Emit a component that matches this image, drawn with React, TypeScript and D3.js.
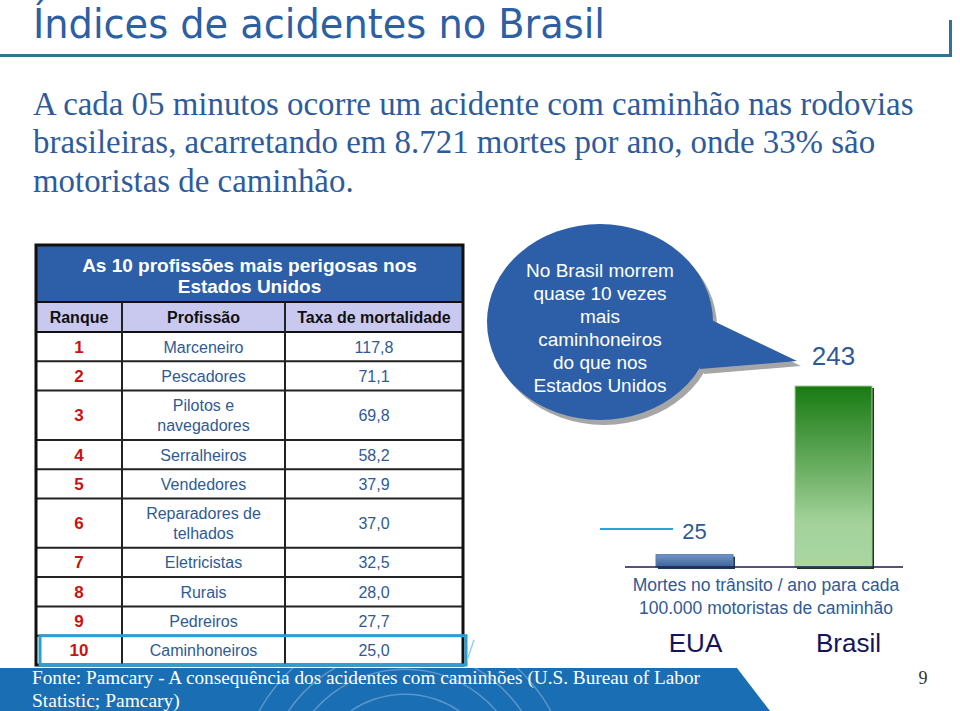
import React from "react";
import * as d3 from "d3";

const TITLE = "Índices de acidentes no Brasil";
const introLines = [
  "A cada 05 minutos ocorre um acidente com caminhão nas rodovias",
  "brasileiras, acarretando em 8.721 mortes por ano, onde 33% são",
  "motoristas de caminhão.",
];
const tableTitle = ["As 10 profissões mais perigosas nos", "Estados Unidos"];
const columns = ["Ranque", "Profissão", "Taxa de mortalidade"];
const ranks = [1, 2, 3, 4, 5, 6, 7, 8, 9, 10];
const professions = [
  ["Marceneiro"],
  ["Pescadores"],
  ["Pilotos e", "navegadores"],
  ["Serralheiros"],
  ["Vendedores"],
  ["Reparadores de", "telhados"],
  ["Eletricistas"],
  ["Rurais"],
  ["Pedreiros"],
  ["Caminhoneiros"],
];
const rates = [117.8, 71.1, 69.8, 58.2, 37.9, 37.0, 32.5, 28.0, 27.7, 25.0];
const countries = ["EUA", "Brasil"];
const truckerDeaths = [25, 243];
const bubbleLines = [
  "No Brasil morrem",
  "quase 10 vezes",
  "mais",
  "caminhoneiros",
  "do que nos",
  "Estados Unidos",
];
const axisCaption = ["Mortes no trânsito / ano para cada", "100.000 motoristas de caminhão"];
const sourceLines = [
  "Fonte: Pamcary - A consequência dos acidentes com caminhões (U.S. Bureau of Labor",
  "Statistic; Pamcary)",
];
const pageNumber = "9";

const ptBR = d3.formatLocale({ decimal: ",", thousands: ".", grouping: [3], currency: ["R$", ""] });
const fmt = ptBR.format(".1f");

const SANS = "'Liberation Sans', Arial, Helvetica, sans-serif";
const SERIF = "'Liberation Serif', 'Times New Roman', serif";
const TEXT_BLUE = "#2f5a96";

export default function App() {
  // table layout
  const colEdges = [36, 122, 285, 463];
  const colCenters = [0, 1, 2].map((i) => (colEdges[i] + colEdges[i + 1]) / 2);
  const tableTop = 245;
  const headBottom = 302;
  const colHeadBottom = 332;
  const rowHeights = professions.map((p) => (p.length === 1 ? 29.3 : 49.3));
  const cum = Array.from(d3.cumsum(rowHeights));
  const rowTops = cum.map((c, i) => colHeadBottom + c - rowHeights[i]);
  const tableBottom = colHeadBottom + cum[cum.length - 1];

  // bars
  const x = d3.scaleBand().domain(countries).range([625, 903]).paddingInner(0.446).paddingOuter(0.223);
  const y = d3.scaleLinear().domain([9, 243]).range([567, 386]);
  const bw = x.bandwidth();

  // bubble
  const bcx = 600, bcy = 322, brx = 113, bry = 98;
  const tail = "M703,316 L797,361 L700,369 Z";

  // footer arcs
  const arcGen = d3.arc();
  const arcs = [70, 95, 120, 140, 165].map((r) =>
    arcGen({ innerRadius: r, outerRadius: r + 1.5, startAngle: -Math.PI / 2.4, endAngle: Math.PI / 2.4 } as any)
  );

  const last = rowTops.length - 1;

  return (
    <svg width={960} height={711} style={{ position: "absolute", left: 0, top: 0, background: "#fff" }}>
      <defs>
        <linearGradient id="gBrasil" x1="0" y1="0" x2="0" y2="1">
          <stop offset="0" stopColor="#187a12" />
          <stop offset="0.45" stopColor="#6aae62" />
          <stop offset="0.75" stopColor="#a2d29a" />
          <stop offset="1" stopColor="#aad6a2" />
        </linearGradient>
        <linearGradient id="gEUA" x1="0" y1="0" x2="0" y2="1">
          <stop offset="0" stopColor="#7393c4" />
          <stop offset="1" stopColor="#3d6598" />
        </linearGradient>
        <clipPath id="footClip">
          <path d="M0,668 L737,668 L770,711 L0,711 Z" />
        </clipPath>
      </defs>

      {/* title */}
      <text x={33} y={38} fontFamily={"'Liberation Sans Narrow', 'DejaVu Sans Condensed', " + SANS} fontSize={40}
        fill="#2c5fa3" textLength={572} lengthAdjust="spacingAndGlyphs">{TITLE}</text>
      <path d="M0,55.5 L950.5,55.5 L950.5,20" fill="none" stroke="#2d7395" strokeWidth={3} />

      {/* intro */}
      {introLines.map((l, i) => (
        <text key={i} x={33} y={115 + i * 38.3} fontFamily={SERIF} fontSize={32.9} fill="#2e5b9c">{l}</text>
      ))}

      {/* table */}
      <rect x={colEdges[0]} y={tableTop} width={colEdges[3] - colEdges[0]} height={headBottom - tableTop} fill="#2d5ea8" />
      <rect x={colEdges[0]} y={headBottom} width={colEdges[3] - colEdges[0]} height={colHeadBottom - headBottom} fill="#c9c9ef" />
      {tableTitle.map((t, i) => (
        <text key={i} x={(colEdges[0] + colEdges[3]) / 2} y={272 + i * 21} textAnchor="middle" fontFamily={SANS}
          fontWeight="bold" fontSize={19} fill="#fff">{t}</text>
      ))}
      {columns.map((c, i) => (
        <text key={c} x={colCenters[i]} y={323} textAnchor="middle" fontFamily={SANS} fontWeight="bold" fontSize={16} fill="#111">{c}</text>
      ))}
      {/* horizontal lines */}
      <line x1={colEdges[0]} x2={colEdges[3]} y1={headBottom} y2={headBottom} stroke="#111" strokeWidth={2} />
      <line x1={colEdges[0]} x2={colEdges[3]} y1={colHeadBottom} y2={colHeadBottom} stroke="#111" strokeWidth={2} />
      {rowTops.slice(1).map((t, i) => (
        <line key={i} x1={colEdges[0]} x2={colEdges[3]} y1={t} y2={t} stroke="#222" strokeWidth={2} />
      ))}
      {[1, 2].map((i) => (
        <line key={i} x1={colEdges[i]} x2={colEdges[i]} y1={headBottom} y2={tableBottom} stroke="#222" strokeWidth={2} />
      ))}
      <rect x={colEdges[0]} y={tableTop} width={colEdges[3] - colEdges[0]} height={tableBottom - tableTop} fill="none" stroke="#111" strokeWidth={3} />
      {ranks.map((r, i) => {
        const cy = rowTops[i] + rowHeights[i] / 2;
        const lines = professions[i];
        return (
          <g key={r}>
            <text x={colCenters[0]} y={cy + 6} textAnchor="middle" fontFamily={SANS} fontWeight="bold" fontSize={17} fill="#cc1111">{r}</text>
            {lines.map((l, j) => (
              <text key={j} x={colCenters[1]} y={cy + 6 + (j - (lines.length - 1) / 2) * 20} textAnchor="middle"
                fontFamily={SANS} fontSize={16} fill={TEXT_BLUE}>{l}</text>
            ))}
            <text x={colCenters[2]} y={cy + 6} textAnchor="middle" fontFamily={SANS} fontSize={16} fill={TEXT_BLUE}>{fmt(rates[i])}</text>
          </g>
        );
      })}
      {/* highlight of truckers row */}
      <rect x={40} y={rowTops[last]} width={426} height={rowHeights[last]} fill="none" stroke="#2a9fd2" strokeWidth={3} />
      <path d={`M468,${rowTops[last] + 22} L474,${rowTops[last] + 4}`} fill="none" stroke="#2aa3d6" strokeWidth={1.5} opacity={0.5} />
      <line x1={600} x2={673} y1={529} y2={529} stroke="#2aa3d6" strokeWidth={2} />

      {/* speech bubble */}
      <g transform="translate(4,5)" fill="#a6a6a6">
        <ellipse cx={bcx} cy={bcy} rx={brx} ry={bry} />
        <path d={tail} />
      </g>
      <g fill="#2d5fa8">
        <ellipse cx={bcx} cy={bcy} rx={brx} ry={bry} />
        <path d={tail} />
      </g>
      {bubbleLines.map((l, i) => (
        <text key={i} x={bcx} y={277 + i * 23} textAnchor="middle" fontFamily={SANS} fontSize={19} fill="#fff">{l}</text>
      ))}

      {/* bars */}
      {countries.map((c, i) => {
        const bx = x(c)!;
        const top = y(truckerDeaths[i]);
        const h = 567 - top;
        return (
          <g key={c}>
            <rect x={bx + 2} y={top + 2} width={bw} height={h} fill={i === 0 ? "#22385a" : "#1f3520"} />
            <rect x={bx} y={top} width={bw} height={h} fill={i === 0 ? "url(#gEUA)" : "url(#gBrasil)"}
              stroke={i === 0 ? "#5a7fb2" : "#9fd092"} strokeWidth={1} />
            <text x={bx + bw / 2} y={i === 0 ? top - 16 : top - 21} textAnchor="middle" fontFamily={SANS}
              fontSize={i === 0 ? 22 : 26} fill={TEXT_BLUE}>{truckerDeaths[i]}</text>
            <text x={bx + bw / 2 + (i === 0 ? 1 : 15)} y={652} textAnchor="middle" fontFamily={SANS} fontSize={26} fill="#14145a">{c}</text>
          </g>
        );
      })}
      <line x1={625} x2={903} y1={567} y2={567} stroke="#1b1b4f" strokeWidth={1.5} />
      {axisCaption.map((l, i) => (
        <text key={i} x={766} y={591 + i * 22.5} textAnchor="middle" fontFamily={SANS} fontSize={17.5} fill={TEXT_BLUE}>{l}</text>
      ))}

      {/* footer */}
      <path d="M0,668 L737,668 L770,711 L0,711 Z" fill="#1a6eb4" />
      <g clipPath="url(#footClip)">
        <g transform="translate(405,790)">
          {arcs.map((d, i) => (
            <path key={i} d={d || ""} fill="#ffffff" opacity={0.28} />
          ))}
        </g>
      </g>
      {sourceLines.map((l, i) => (
        <text key={i} x={32} y={684 + i * 22.5} fontFamily={SERIF} fontSize={19.5} fill="#fff"
          textLength={i === 0 ? 668 : undefined} lengthAdjust="spacingAndGlyphs">{l}</text>
      ))}
      <text x={923} y={684} textAnchor="middle" fontFamily={SERIF} fontSize={18} fill="#333">{pageNumber}</text>
    </svg>
  );
}
